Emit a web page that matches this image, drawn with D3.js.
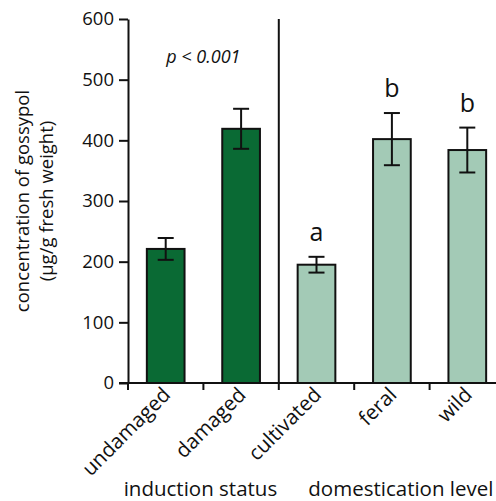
<!DOCTYPE html>
<html>
<head>
<meta charset="utf-8">
<script src="https://cdn.jsdelivr.net/npm/d3@7"></script>
<style>
  body { margin: 0; background: #fff; }
  text { font-family: "Open Sans", "Noto Sans", sans-serif; fill: #111; }
</style>
</head>
<body>
<div id="chart"></div>
<script>
var categories = ["undamaged", "damaged", "cultivated", "feral", "wild"];
var means = [221, 419, 195, 402, 384];
var errors = [18, 33, 13, 43, 37];
var groups = ["induction", "induction", "domestication", "domestication", "domestication"];
var letters = ["", "", "a", "b", "b"];
var yTicks = [0, 100, 200, 300, 400, 500, 600];

var colors = { induction: "#0a6a34", domestication: "#a3cab6" };

var width = 496, height = 501;
var margin = { top: 19, right: -9, bottom: 118, left: 128 };
var innerW = width - margin.left - margin.right;
var innerH = height - margin.top - margin.bottom;

var svg = d3.select("#chart").append("svg")
  .attr("width", width)
  .attr("height", height)
  .append("g")
  .attr("transform", "translate(" + margin.left + "," + margin.top + ")");

var x = d3.scaleBand().domain(categories).range([0, innerW]).paddingInner(0.5).paddingOuter(0.25);
var y = d3.scaleLinear().domain([0, 600]).range([innerH, 0]);

// bars
svg.selectAll(".bar")
  .data(categories)
  .enter().append("rect")
  .attr("x", function (d) { return x(d); })
  .attr("y", function (d, i) { return y(means[i]); })
  .attr("width", x.bandwidth())
  .attr("height", function (d, i) { return innerH - y(means[i]); })
  .style("fill", function (d, i) { return colors[groups[i]]; })
  .style("stroke", "#111")
  .style("stroke-width", 2);

// error bars
var eb = svg.selectAll(".err").data(categories).enter().append("g");
var cx = function (d) { return x(d) + x.bandwidth() / 2; };
eb.append("line")
  .attr("x1", cx).attr("x2", cx)
  .attr("y1", function (d, i) { return y(means[i] + errors[i]); })
  .attr("y2", function (d, i) { return y(means[i] - errors[i]); });
eb.append("line")
  .attr("x1", function (d) { return cx(d) - 8; }).attr("x2", function (d) { return cx(d) + 8; })
  .attr("y1", function (d, i) { return y(means[i] + errors[i]); })
  .attr("y2", function (d, i) { return y(means[i] + errors[i]); });
eb.append("line")
  .attr("x1", function (d) { return cx(d) - 8; }).attr("x2", function (d) { return cx(d) + 8; })
  .attr("y1", function (d, i) { return y(means[i] - errors[i]); })
  .attr("y2", function (d, i) { return y(means[i] - errors[i]); });
eb.selectAll("line").style("stroke", "#111").style("stroke-width", 2);

// significance letters
svg.selectAll(".letter")
  .data(categories)
  .enter().append("text")
  .attr("x", cx)
  .attr("y", function (d, i) { return y(means[i] + errors[i]) - 16; })
  .attr("text-anchor", "middle")
  .style("font-size", "25px")
  .text(function (d, i) { return letters[i]; });

svg.append("text")
  .attr("x", x("undamaged") + (x("damaged") + x.bandwidth() - x("undamaged")) / 2)
  .attr("y", 44)
  .attr("text-anchor", "middle")
  .style("font-size", "18px")
  .style("font-style", "italic")
  .text("p < 0.001");

// y axis
var yAxis = svg.append("g")
  .call(d3.axisLeft(y).tickValues(yTicks).tickSize(9).tickSizeOuter(0));
yAxis.select(".domain").style("stroke", "#111").style("stroke-width", 2);
yAxis.selectAll(".tick line").style("stroke", "#111").style("stroke-width", 2);
yAxis.selectAll(".tick text").attr("x", -14).style("font-size", "18.5px")
  .style("font-family", "'Open Sans', 'Noto Sans', sans-serif").style("fill", "#111");

// x axis: ticks at band boundaries
var step = x.step();
var bounds = categories.map(function (d) { return x(d) - step * x.paddingInner() / 2; });
bounds.push(x(categories[categories.length - 1]) + x.bandwidth() + step * x.paddingInner() / 2);
svg.append("line")
  .attr("x1", -9).attr("x2", innerW)
  .attr("y1", innerH).attr("y2", innerH)
  .style("stroke", "#111").style("stroke-width", 2);
svg.selectAll(".xtick").data(bounds).enter().append("line")
  .attr("x1", function (d) { return d; }).attr("x2", function (d) { return d; })
  .attr("y1", innerH).attr("y2", innerH + 7)
  .style("stroke", "#111").style("stroke-width", 2);

// divider between groups
svg.append("line")
  .attr("x1", bounds[2]).attr("x2", bounds[2])
  .attr("y1", 0).attr("y2", innerH)
  .style("stroke", "#111").style("stroke-width", 2);

// category labels
svg.selectAll(".xlabel")
  .data(categories)
  .enter().append("text")
  .attr("text-anchor", "end")
  .attr("transform", function (d) { return "translate(" + (cx(d) + 6) + "," + (innerH + 13) + ") rotate(-45)"; })
  .style("font-size", "20.5px")
  .text(function (d) { return d; });

// group labels
svg.append("text")
  .attr("x", (bounds[0] + bounds[2]) / 2 - 3)
  .attr("y", innerH + 113)
  .attr("text-anchor", "middle")
  .style("font-size", "20.5px")
  .text("induction status");
svg.append("text")
  .attr("x", (bounds[2] + bounds[5]) / 2 + 9)
  .attr("y", innerH + 113)
  .attr("text-anchor", "middle")
  .style("font-size", "20.5px")
  .text("domestication level");

// y axis title
var yt = svg.append("text")
  .attr("transform", "translate(" + (-99) + "," + (innerH / 2) + ") rotate(-90)")
  .attr("text-anchor", "middle")
  .style("font-size", "18.5px");
yt.append("tspan").attr("x", 0).attr("dy", 0).text("concentration of gossypol");
yt.append("tspan").attr("x", 0).attr("dy", 24).text("(µg/g fresh weight)");
</script>
</body>
</html>
